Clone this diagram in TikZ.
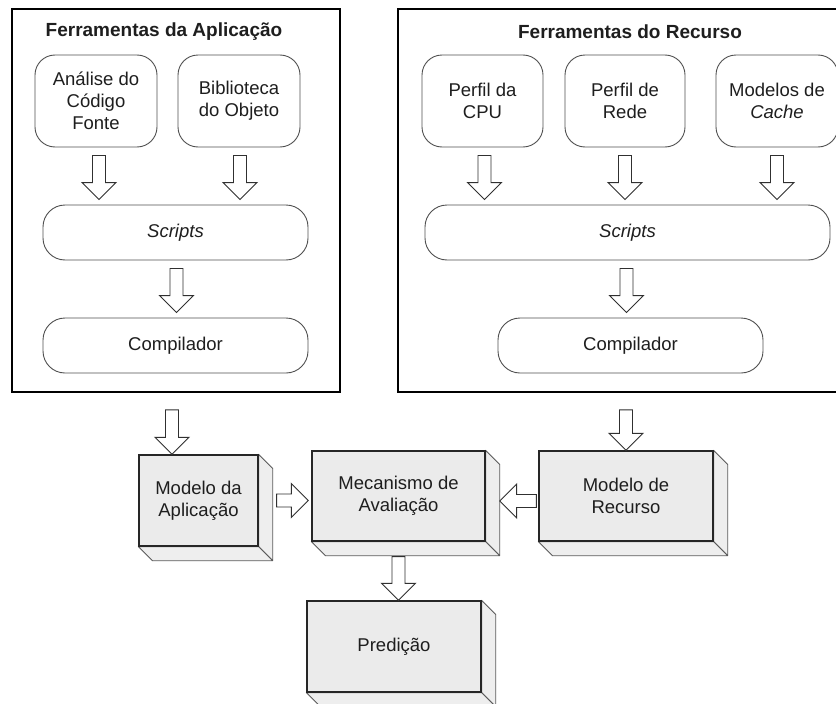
\documentclass[tikz,border=0pt]{standalone}
\usepackage{fontspec}
\setmainfont{Liberation Sans}
\usetikzlibrary{calc}
\pgfdeclarelayer{bg}
\pgfsetlayers{bg,main}
\definecolor{txt}{HTML}{1E1E1E}
\definecolor{rline}{HTML}{505050}
\definecolor{frontfill}{HTML}{EBEBEB}
\definecolor{sidefill}{HTML}{EEEEEE}
\definecolor{sideline}{HTML}{5A5A5A}
\definecolor{arrline}{HTML}{303030}
\newcommand\barr[2]{%
  \draw[blockarrow] let \p1=#1, \p2=#2, \n1={atan2(\y2-\y1,\x2-\x1)}, \n2={veclen(\x2-\x1,\y2-\y1)} in
    [shift={(\p1)}, rotate=\n1]
    (0,-6.5) -- (\n2-17,-6.5) -- (\n2-17,-17) -- (\n2,0) -- (\n2-17,17) -- (\n2-17,6.5) -- (0,6.5) -- cycle;
}
\newcommand\extrude[1]{%
  \begin{pgfonlayer}{bg}
  \filldraw[sideface] (#1.north east) -- ++(14,14) -- ($(#1.south east)+(14,14)$) -- (#1.south east) -- cycle;
  \filldraw[sideface] (#1.south west) -- ++(14,14) -- ($(#1.south east)+(14,14)$) -- (#1.south east) -- cycle;
  \end{pgfonlayer}
}
\begin{document}
\begin{tikzpicture}[x=1pt,y=-1pt,
  every node/.style={text=txt, font=\fontsize{18.5}{22}\selectfont, align=center, inner sep=0pt},
  outerbox/.style={draw=black, line width=1.8pt},
  titletext/.style={font=\fontsize{19}{22}\selectfont\bfseries},
  toolbox/.style={draw=rline, line width=0.9pt, fill=white, rounded corners=20pt, minimum height=92pt},
  pillbox/.style={draw=rline, line width=0.9pt, fill=white, rounded corners=22pt, minimum height=55pt},
  modelbox/.style={draw=black!85, line width=1.3pt, fill=frontfill},
  sideface/.style={draw=sideline, line width=0.8pt, fill=sidefill, line join=round},
  blockarrow/.style={draw=arrline, line width=0.9pt, fill=white, line join=miter}
]
\useasboundingbox (0,0) rectangle (836,704);
\begin{pgfonlayer}{bg}
\fill[white] (0,0) rectangle (836,704);
\end{pgfonlayer}
\clip (0,0) rectangle (836,704);

% outer tool boxes
\node[outerbox, minimum width=328pt, minimum height=383pt] (appbox) at (176,200.5) {};
\node[outerbox, minimum width=460pt, minimum height=383pt] (resbox) at (628,200.5) {};
\node[titletext] (apptitle) at (164,32) {Ferramentas da Aplicação};
\node[titletext] (restitle) at (630,32) {Ferramentas do Recurso};

% application tools
\node[toolbox, minimum width=122pt] (an1) at (96,101) {Análise do\\Código\\Fonte};
\node[toolbox, minimum width=122pt] (bib) at (239,101) {Biblioteca\\do Objeto};
\node[pillbox, minimum width=265pt] (sc1) at (175.5,232.5) {\itshape Scripts};
\node[pillbox, minimum width=265pt] (co1) at (175.5,345.5) {Compilador};

% resource tools
\node[toolbox, minimum width=121pt] (cpu) at (482.5,101) {Perfil da\\CPU};
\node[toolbox, minimum width=120pt] (rede) at (625,101) {Perfil de\\Rede};
\node[toolbox, minimum width=122pt] (cache) at (777,101) {Modelos de\\\itshape Cache};
\node[pillbox, minimum width=405pt] (sc2) at (627.5,232.5) {\itshape Scripts};
\node[pillbox, minimum width=265pt] (co2) at (630.5,345.5) {Compilador};

% models
\node[modelbox, minimum width=119pt, minimum height=91pt] (mapp) at (198.5,500.5) {Modelo da\\Aplicação};
\node[modelbox, minimum width=173pt, minimum height=90pt] (mec) at (398.5,496) {Mecanismo de\\Avaliação};
\node[modelbox, minimum width=174pt, minimum height=90pt] (mrec) at (626,496) {Modelo de\\Recurso};
\node[modelbox, minimum width=174pt, minimum height=91pt] (pred) at (394,646.5) {Predição};
\extrude{mapp}
\extrude{mec}
\extrude{mrec}
\extrude{pred}

% block arrows
\barr{($(an1.south)+(3,8)$)}{($(an1.south |- sc1.north)+(3,-5)$)}
\barr{($(bib.south)+(1,8)$)}{($(bib.south |- sc1.north)+(1,-5)$)}
\barr{($(sc1.south)+(1,8)$)}{($(co1.north)+(1,-5)$)}
\barr{($(cpu.south)+(2,8)$)}{($(cpu.south |- sc2.north)+(2,-5)$)}
\barr{($(rede.south)+(0,8)$)}{($(rede.south |- sc2.north)+(0,-5)$)}
\barr{($(cache.south)+(0,8)$)}{($(cache.south |- sc2.north)+(0,-5)$)}
\barr{($(sc2.south)+(-1,8)$)}{($(sc2.south |- co2.north)+(-1,-5)$)}
\barr{($(appbox.south)+(-4,17)$)}{($(appbox.south |- mapp.north)+(-4,0)$)}
\barr{($(mrec.north |- resbox.south)+(0,17)$)}{(mrec.north)}
\barr{($(mapp.east)+(18,0)$)}{($(mec.west |- mapp.east)+(-3,0)$)}
\barr{($(mrec.west)+(-2,5)$)}{($(mec.east)+(14,5)$)}
\barr{($(mec.south)+(0,15)$)}{(mec.south |- pred.north)}
\end{tikzpicture}
\end{document}
